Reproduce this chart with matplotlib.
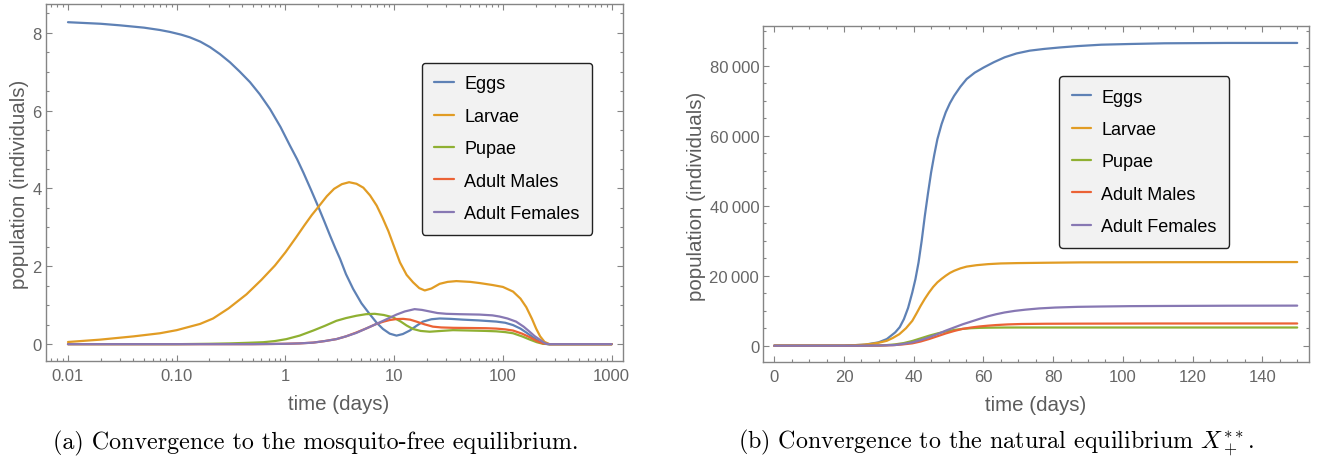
import numpy as np
import matplotlib
matplotlib.use("Agg")
import matplotlib.pyplot as plt
from matplotlib.ticker import FixedLocator, FixedFormatter, MultipleLocator, FuncFormatter, LogLocator, NullFormatter

# ---------------- data: left panel (mosquito-free equilibrium, log time) ----------------
eggs_a_t = [0.01, 0.02, 0.03, 0.05, 0.07, 0.0867, 0.11, 0.1325, 0.165, 0.2025, 0.25, 0.309, 0.38, 0.472,
            0.58, 0.721, 0.9, 1.10, 1.28, 1.46, 1.72, 2.01, 2.28, 2.57, 2.87, 3.18, 3.6, 4.19, 5.0, 5.96,
            6.9, 7.89, 9.1, 10.5, 12, 13.9, 16, 18.4, 22, 26.2, 33, 42.9, 60, 86.8, 105, 124, 145, 164,
            190, 217, 240, 260, 1000]
eggs_a_v = [8.27, 8.23, 8.19, 8.13, 8.07, 8.02, 7.95, 7.88, 7.77, 7.63, 7.45, 7.24, 7.0, 6.73,
            6.42, 6.04, 5.58, 5.10, 4.75, 4.41, 3.96, 3.52, 3.15, 2.79, 2.47, 2.19, 1.8, 1.42, 1.05, 0.77,
            0.55, 0.39, 0.27, 0.22, 0.26, 0.35, 0.47, 0.58, 0.64, 0.66, 0.65, 0.63, 0.61, 0.58, 0.55, 0.49,
            0.40, 0.30, 0.17, 0.065, 0.015, 0.0, 0.0]

larvae_a_t = [0.01, 0.0197, 0.04, 0.07, 0.1, 0.164, 0.216, 0.3, 0.438, 0.6, 0.8, 1.0, 1.25, 1.5, 1.75,
              2.0, 2.4, 2.8, 3.3, 3.85, 4.5, 5.2, 6.0, 6.9, 7.8, 8.85, 9.84, 11.3, 13, 14.9, 17, 19.1,
              22, 26.2, 31, 37.3, 50, 61, 80, 100, 124, 145, 164, 185, 202, 220, 241, 268, 1000]
larvae_a_v = [0.056, 0.116, 0.20, 0.28, 0.36, 0.52, 0.66, 0.92, 1.28, 1.65, 2.02, 2.36, 2.74, 3.06, 3.32,
              3.52, 3.8, 3.99, 4.11, 4.16, 4.12, 4.02, 3.82, 3.56, 3.25, 2.9, 2.55, 2.1, 1.78, 1.59, 1.44,
              1.38, 1.43, 1.55, 1.6, 1.62, 1.6, 1.57, 1.52, 1.47, 1.35, 1.17, 0.95, 0.65, 0.4, 0.2, 0.06,
              0.0, 0.0]

pupae_a_t = [0.01, 0.1, 0.2, 0.308, 0.45, 0.624, 0.8, 1.02, 1.35, 1.80, 2.3, 2.94, 3.6, 4.49, 5.5, 6.62,
             8, 9.76, 11.5, 13, 14.9, 17.5, 21.2, 27, 34.7, 50, 70, 86.8, 105, 124, 150, 176, 205, 233,
             268, 1000]
pupae_a_v = [0.0, 0.0, 0.01, 0.02, 0.035, 0.05, 0.08, 0.13, 0.22, 0.35, 0.47, 0.60, 0.67, 0.73, 0.77, 0.78,
             0.75, 0.69, 0.58, 0.48, 0.39, 0.34, 0.32, 0.34, 0.36, 0.35, 0.34, 0.33, 0.31, 0.28, 0.2, 0.12,
             0.05, 0.01, 0.0, 0.0]

males_a_t = [0.01, 0.5, 0.75, 1.0, 1.35, 1.80, 2.3, 2.94, 3.6, 4.49, 5.6, 6.86, 8, 9.1, 10.5, 12.1, 14,
             16, 19, 22.7, 27, 34.7, 50, 70, 86.8, 105, 124, 150, 176, 205, 233, 268, 1000]
males_a_v = [0.0, 0.0, 0.005, 0.01, 0.02, 0.04, 0.08, 0.13, 0.2, 0.30, 0.41, 0.52, 0.58, 0.62, 0.645, 0.65,
             0.63, 0.58, 0.51, 0.45, 0.43, 0.42, 0.415, 0.41, 0.40, 0.38, 0.35, 0.27, 0.18, 0.08, 0.02, 0.0, 0.0]

females_a_t = [0.01, 0.5, 0.75, 1.0, 1.35, 1.80, 2.3, 2.94, 3.6, 4.49, 5.6, 6.86, 8.5, 10.5, 12.5, 15.4,
               18, 21.2, 25, 30.2, 40, 61, 80, 93, 110, 132, 155, 176, 195, 217, 235, 250, 268, 1000]
females_a_v = [0.0, 0.0, 0.005, 0.01, 0.02, 0.04, 0.08, 0.13, 0.2, 0.29, 0.41, 0.52, 0.64, 0.76, 0.84, 0.90,
               0.88, 0.84, 0.80, 0.78, 0.77, 0.76, 0.74, 0.71, 0.66, 0.58, 0.45, 0.32, 0.21, 0.12, 0.05, 0.01,
               0.0, 0.0]

# ---------------- data: right panel (natural equilibrium, linear time) ----------------
eggs_b_t = [0, 20, 26, 29.9, 32.3, 34.7, 36, 37.2, 38.4, 39.6, 40.5, 41.4, 42.3, 43.2, 44.1, 45.0, 45.9,
            46.8, 48, 49.2, 50.4, 51.6, 53.4, 55.2, 57.5, 60.1, 63, 66.1, 69.5, 73.3, 77.5, 81.8, 87, 93.8,
            102, 111.9, 130, 150]
eggs_b_v = [0, 0, 300, 950, 1900, 3800, 5300, 7600, 10800, 15200, 19000, 23800, 30000, 37100, 43500, 49500,
            54500, 59000, 63300, 66700, 69300, 71400, 74000, 76200, 78000, 79500, 81000, 82400, 83500, 84300,
            84800, 85200, 85600, 86000, 86200, 86400, 86500, 86500]

larvae_b_t = [0, 20, 25, 27.5, 30, 32.3, 34, 35.9, 37.8, 39.6, 40.8, 42.0, 43.2, 44.4, 45.6, 46.8, 48, 49.2,
              50.4, 51.6, 53.4, 55.2, 58, 61.3, 65, 69.7, 78, 87.8, 110, 150]
larvae_b_v = [0, 0, 250, 480, 850, 1400, 2200, 3300, 5000, 7100, 9200, 11400, 13400, 15200, 16800, 18100,
              19100, 20000, 20800, 21400, 22100, 22600, 23000, 23300, 23500, 23600, 23700, 23800, 23850, 23900]

pupae_b_t = [0, 25, 30, 32, 34.7, 37.2, 39.6, 42.0, 44.4, 46.8, 49.2, 51.6, 54, 56.5, 59, 61.3, 66, 70, 150]
pupae_b_v = [0, 0, 60, 150, 380, 760, 1350, 2100, 2850, 3500, 4050, 4500, 4800, 5000, 5100, 5150, 5190,
             5200, 5200]

males_b_t = [0, 25, 30, 34, 37, 39.6, 42, 44.4, 46.8, 49.2, 51.6, 54, 56.5, 58.9, 61.3, 63.7, 67, 70.9, 78,
             87.8, 110, 150]
males_b_v = [0, 0, 40, 150, 380, 670, 1200, 1900, 2700, 3500, 4200, 4800, 5200, 5500, 5720, 5900, 6080,
             6200, 6270, 6300, 6340, 6350]

females_b_t = [0, 25, 30, 34.7, 37, 39.6, 42, 44.4, 46.8, 49.2, 51.6, 54, 56.5, 59, 61.3, 63.7, 66.1, 69,
               72.1, 76, 80.6, 87, 93.8, 102, 111.9, 130, 150]
females_b_v = [0, 0, 60, 190, 500, 950, 1600, 2400, 3300, 4300, 5200, 6100, 6900, 7700, 8400, 9000, 9500,
               9950, 10300, 10650, 10900, 11100, 11200, 11300, 11350, 11420, 11450]

labels = ["Eggs", "Larvae", "Pupae", "Adult Males", "Adult Females"]
colors = ["#5E81B5", "#E19C24", "#8FB032", "#EB6235", "#8778B3"]

xticks_a = [0.01, 0.1, 1, 10, 100, 1000]
xticklabels_a = ["0.01", "0.10", "1", "10", "100", "1000"]
yticks_a = [0, 2, 4, 6, 8]
xticks_b = [0, 20, 40, 60, 80, 100, 120, 140]
yticks_b = [0, 20000, 40000, 60000, 80000]

caption_a = "(a) Convergence to the mosquito-free equilibrium."
caption_b = r"(b) Convergence to the natural equilibrium $X_+^{**}$."

# ---------------- styling ----------------
plt.rcParams['font.family'] = ['Liberation Sans', 'DejaVu Sans']
plt.rcParams['mathtext.fontset'] = 'cm'

SPINE = '#858585'
TICKLAB = '#666666'
AXLAB = '#5c5c5c'

fig = plt.figure(figsize=(13.2, 4.64), dpi=100)
axA = fig.add_axes([0.03462, 0.21918, 0.43758, 0.76940])
axB = fig.add_axes([0.57826, 0.21703, 0.41318, 0.72414])


def style(ax):
    for s in ax.spines.values():
        s.set_color(SPINE)
        s.set_linewidth(1.0)
    ax.tick_params(which='both', direction='in', top=True, right=True, color=SPINE,
                   labelcolor=TICKLAB, labelsize=12, width=0.8)
    ax.tick_params(which='major', length=4)
    ax.tick_params(which='minor', length=2)
    ax.tick_params(axis='x', pad=5)
    ax.tick_params(axis='y', pad=3)


series_a = [(eggs_a_t, eggs_a_v), (larvae_a_t, larvae_a_v), (pupae_a_t, pupae_a_v),
            (males_a_t, males_a_v), (females_a_t, females_a_v)]
series_b = [(eggs_b_t, eggs_b_v), (larvae_b_t, larvae_b_v), (pupae_b_t, pupae_b_v),
            (males_b_t, males_b_v), (females_b_t, females_b_v)]

for (t, v), lab, c in zip(series_a, labels, colors):
    axA.plot(t, v, color=c, lw=1.6, label=lab, solid_joinstyle='round', solid_capstyle='round')
for (t, v), lab, c in zip(series_b, labels, colors):
    axB.plot(t, v, color=c, lw=1.6, label=lab, solid_joinstyle='round', solid_capstyle='round')

# left axes
axA.set_xscale('log')
axA.set_xlim(10 ** -2.205, 10 ** 3.107)
axA.set_ylim(-0.44, 8.73)
axA.xaxis.set_major_locator(FixedLocator(xticks_a))
axA.xaxis.set_major_formatter(FixedFormatter(xticklabels_a))
axA.xaxis.set_minor_locator(LogLocator(base=10, subs=np.arange(2, 10), numticks=20))
axA.xaxis.set_minor_formatter(NullFormatter())
axA.yaxis.set_major_locator(FixedLocator(yticks_a))
axA.yaxis.set_minor_locator(MultipleLocator(0.5))
style(axA)
axA.set_xlabel("time (days)", fontsize=14.8, color=AXLAB)
axA.set_ylabel("population (individuals)", fontsize=14.8, color=AXLAB)
axA.xaxis.set_label_coords(0.507, -0.092)
axA.yaxis.set_label_coords(-0.029, 0.498)

# right axes
axB.set_xlim(-3.13, 153.3)
axB.set_ylim(-4743, 91257)
axB.xaxis.set_major_locator(FixedLocator(xticks_b))
axB.xaxis.set_minor_locator(MultipleLocator(5))
axB.yaxis.set_major_locator(FixedLocator(yticks_b))
axB.yaxis.set_minor_locator(MultipleLocator(5000))
axB.yaxis.set_major_formatter(FuncFormatter(lambda v, p: f"{int(round(v)):,}".replace(",", "\u2009")))
style(axB)
axB.set_xlabel("time (days)", fontsize=14.8, color=AXLAB)
axB.set_ylabel("population (individuals)", fontsize=14.8, color=AXLAB)
axB.xaxis.set_label_coords(0.5, -0.097)
axB.yaxis.set_label_coords(-0.105, 0.498)

leg_kw = dict(fontsize=13, frameon=True, fancybox=True, framealpha=1, facecolor='#f2f2f2',
              edgecolor='#222222', borderpad=0.7, labelspacing=0.85, handlelength=1.1,
              handletextpad=0.55, borderaxespad=0, loc='upper left')
legA = axA.legend(bbox_to_anchor=(0.651, 0.836), **leg_kw)
legB = axB.legend(bbox_to_anchor=(0.542, 0.852), **leg_kw)
for lg in (legA, legB):
    lg.get_frame().set_linewidth(1.0)
    for line in lg.get_lines():
        line.set_linewidth(1.6)

fig.text(316 / 1320, 1 - 443 / 464, caption_a, ha='center', va='center', fontsize=17.3, family='cmr10')
fig.text(996 / 1320, 1 - 443 / 464, caption_b, ha='center', va='center', fontsize=17.3, family='cmr10')

fig.savefig("out.png", dpi=100)
